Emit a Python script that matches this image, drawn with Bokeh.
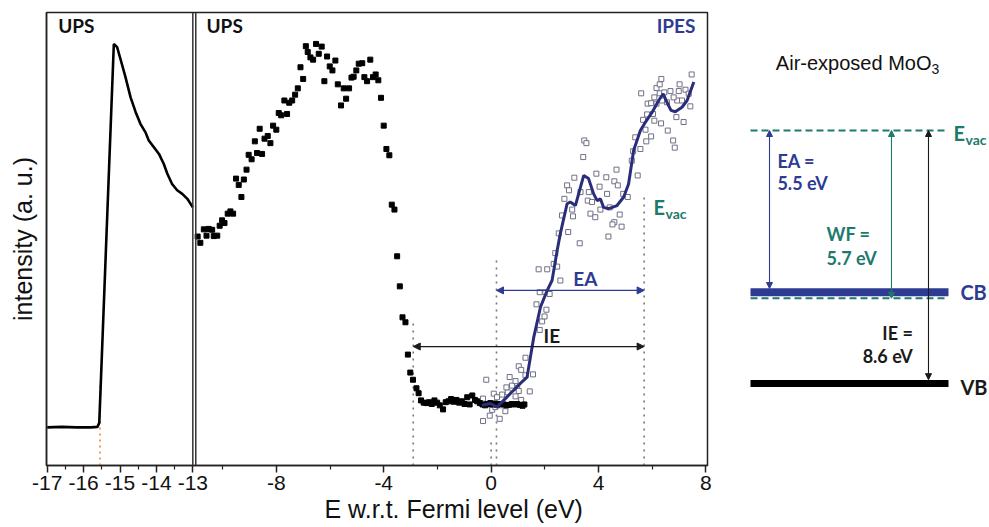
from bokeh.plotting import figure
from bokeh.models import (Range1d, LinearAxis, FixedTicker, Span, Arrow, NormalHead,
                          CustomJSTickFormatter, Title)
from bokeh.layouts import row
from bokeh.core.properties import value
from bokeh.embed import file_html
from bokeh.resources import INLINE

# ---------------- data ----------------
# secondary-electron cutoff panel (UPS), x in eV, intensity in a.u.
left_x = [-17.0, -16.6, -16.2, -15.8, -15.62, -15.57, -15.17, -15.08, -14.99, -14.85, -14.71, -14.57,
          -14.44, -14.30, -14.21, -14.07, -13.93, -13.80, -13.70, -13.57, -13.43, -13.29, -13.15, -13.0]
left_y = [7.6, 7.7, 7.6, 7.6, 7.7, 8.6, 93.0, 92.3, 89.7, 85.6, 81.1, 77.8,
          75.2, 73.3, 71.5, 70.0, 68.5, 66.3, 64.1, 61.8, 60.4, 59.6, 58.5, 56.6]

# valence region (UPS, filled squares)
ups_x = [-10.93, -10.83, -10.70, -10.60, -10.52, -10.39, -10.33, -10.20, -10.11, -10.02,
         -9.93, -9.81, -9.71, -9.61, -9.50, -9.40, -9.30, -9.21, -9.11, -9.03,
         -8.92, -8.80, -8.72, -8.62, -8.53, -8.44, -8.32, -8.22, -8.12, -8.00,
         -7.91, -7.82, -7.70, -7.60, -7.52, -7.41, -7.30, -7.20, -7.10, -7.00,
         -6.90, -6.83, -6.73, -6.63, -6.52, -6.42, -6.31, -6.21, -6.11, -6.01,
         -5.91, -5.80, -5.71, -5.59, -5.49, -5.40, -5.29, -5.20, -5.12, -5.02,
         -4.93, -4.80, -4.72, -4.62, -4.50, -4.40, -4.30, -4.20, -4.10, -4.00,
         -3.90, -3.79, -3.70, -3.60, -3.50, -3.40, -3.30, -3.19, -3.10, -3.01,
         -2.91, -2.78, -2.70, -2.61, -2.51, -2.41, -2.31, -2.21, -2.11, -2.01,
         -1.91, -1.79, -1.69, -1.59, -1.49, -1.39, -1.29, -1.19, -1.09, -0.99,
         -0.89, -0.80, -0.70, -0.60, -0.52, -0.42, -0.32, -0.22, -0.13, -0.03,
         0.07, 0.15, 0.22, 0.35, 0.47, 0.57, 0.67, 0.77, 0.87, 0.97,
         1.07, 1.17, 1.24]
ups_y = [50.1, 48.7, 51.7, 50.3, 51.8, 51.6, 50.2, 50.3, 52.5, 53.7,
         53.1, 55.2, 55.7, 55.2, 63.0, 61.6, 58.9, 62.8, 65.0, 68.3,
         67.3, 71.3, 68.7, 74.1, 68.5, 71.9, 72.5, 70.9, 74.8, 73.9,
         77.6, 77.1, 80.4, 77.4, 79.9, 80.4, 81.7, 83.1, 87.8, 85.2,
         92.5, 91.2, 90.0, 89.5, 93.0, 90.8, 92.4, 84.7, 90.2, 88.0,
         87.1, 89.3, 84.0, 79.3, 83.1, 80.8, 83.1, 85.5, 85.7, 87.1,
         88.6, 88.7, 85.6, 84.7, 89.5, 85.6, 86.2, 84.9, 81.0, 74.8,
         69.6, 68.2, 57.2, 56.1, 45.7, 39.0, 32.1, 31.0, 23.8, 19.8,
         18.2, 16.3, 15.2, 13.6, 13.1, 13.0, 13.2, 12.8, 13.6, 13.1,
         12.5, 11.6, 13.2, 13.4, 13.9, 13.3, 13.7, 13.1, 13.4, 12.8,
         14.3, 12.7, 14.7, 13.7, 13.4, 13.0, 12.7, 12.5, 12.8, 13.0,
         12.7, 12.9, 12.6, 12.8, 12.7, 12.5, 12.6, 12.8, 12.7, 12.8,
         12.6, 12.4, 12.7]

# conduction region (IPES, open squares)
ipes_x = [-0.30, -0.05, 0.04, 0.32, 0.53, -0.30, -0.03, 0.16, 0.32, -0.18,
          0.10, 0.22, 0.41, 0.62, 0.57, 0.78, 0.91, 0.97, 1.03, 1.12,
          0.69, 0.91, 1.44, 1.03, 1.12, 1.28, 1.56, 1.28, 1.81, 1.90,
          1.99, 2.06, 1.69, 1.81, 2.02, 2.18, 2.58, 1.77, 2.09, 2.33,
          2.46, 2.39, 2.52, 2.87, 3.30, 4.37, 2.64, 3.02, 3.05, 3.70,
          3.88, 4.79, 4.59, 4.52, 4.86, 3.60, 3.76, 4.07, 4.42, 2.73,
          3.33, 3.64, 4.04, 4.32, 4.92, 5.09, 2.83, 2.90, 3.10, 3.92,
          4.29, 4.67, 4.59, 4.72, 3.43, 3.47, 3.55, 5.46, 5.24, 5.29,
          5.37, 5.56, 5.75, 5.96, 5.78, 6.58, 6.78, 6.84, 5.66, 5.81,
          6.03, 6.08, 6.33, 7.17, 6.90, 5.83, 5.96, 6.16, 6.37, 6.55,
          6.93, 7.11, 7.42, 5.59, 6.08, 6.28, 6.45, 6.68, 6.99, 7.24,
          7.36, 6.80, 6.16, 6.28, 7.02, 6.34, 7.47]
ipes_y = [9.0, 10.2, 11.5, 9.5, 11.2, 14.0, 12.7, 12.1, 12.5, 18.2,
          15.1, 14.3, 14.9, 15.4, 16.5, 16.9, 14.5, 16.4, 15.7, 13.7,
          18.8, 17.9, 15.6, 21.2, 20.4, 19.2, 19.4, 23.1, 29.3, 31.2,
          32.3, 33.8, 35.0, 37.7, 37.7, 37.3, 40.3, 42.8, 42.8, 44.0,
          43.4, 46.4, 50.8, 51.1, 48.6, 50.1, 54.8, 56.1, 54.6, 55.2,
          54.4, 55.0, 53.3, 52.8, 52.3, 58.1, 57.8, 56.1, 56.6, 58.5,
          60.0, 60.0, 61.2, 59.6, 59.6, 58.9, 61.5, 60.4, 63.2, 64.1,
          63.3, 65.0, 62.4, 61.5, 67.8, 71.5, 70.9, 63.7, 67.0, 69.1,
          72.2, 69.6, 73.9, 72.4, 71.3, 73.7, 71.5, 69.9, 76.1, 77.3,
          77.4, 75.9, 75.3, 75.6, 76.7, 79.7, 79.8, 79.7, 80.4, 80.0,
          80.4, 80.4, 79.1, 82.0, 81.1, 82.0, 82.2, 82.5, 82.5, 82.8,
          81.9, 81.1, 83.2, 84.0, 84.0, 85.2, 86.2]

# smoothed IPES curve
fit_x = [-0.34, -0.03, 0.22, 0.53, 0.83, 1.09, 1.34, 1.59, 1.84, 2.09, 2.27, 2.46, 2.58,
         2.83, 2.95, 3.14, 3.45, 3.63, 3.82, 3.95, 4.07, 4.19, 4.38, 4.69, 4.94, 5.12,
         5.31, 5.56, 5.75, 6.00, 6.24, 6.41, 6.55, 6.70, 6.86, 7.11, 7.30, 7.55]
fit_y = [12.5, 12.9, 12.1, 14.0, 15.8, 17.4, 18.8, 27.7, 34.4, 38.1, 40.3, 47.0, 50.8,
         57.4, 57.8, 57.0, 63.7, 63.0, 59.6, 58.1, 58.5, 56.6, 56.3, 57.0, 58.9, 61.8,
         69.3, 73.7, 75.6, 77.8, 80.4, 81.9, 80.0, 78.2, 77.9, 78.9, 80.4, 84.5]

# characteristic energies (eV, w.r.t. Fermi level)
CUTOFF = -15.55
VBM = -2.9
FERMI = 0.0
CBM = 0.2
EVAC = 5.7

# ticks
left_ticks = [-17, -16, -15, -14, -13]
left_minor = [-16.5, -15.5, -14.5, -13.5]
mid_ticks = [-8, -4, 0, 4, 8]
mid_minor = [-10, -6, -2, 2, 6]

# energy-level diagram (eV relative to vacuum level)
EA, WF, IE = 5.5, 5.7, 8.6
level_vac, level_cb, level_ef, level_vb = 0.0, -EA, -WF, -IE

# ---------------- styling ----------------
BLUE = "#2d3b93"
NAVY = "#2a2e7a"
TEAL = "#1e7a6b"
DARK = "#1a1a1a"
BOLD = value("Lato")
SANS = value("Liberation Sans")
SANS_NAME = "Liberation Sans"

Y_MIN, Y_MAX = -0.9, 100.0
MID_LEFT = -11.0
MX0, MX1 = -16.56, 8.06      # middle-panel scale across the whole frame
LX0, LX1 = -17.02, 1.14      # left-panel scale across the whole frame
K = (LX1 - LX0) / (MX1 - MX0)

BORDER_TOP, BORDER_BOTTOM = 12, 62


def main_pos(v):
    """position on the shared frame (main scale) of a left-panel value"""
    return MX0 + (v - LX0) / K


p = figure(width=715, height=527, output_backend="svg", toolbar_location=None,
           x_range=Range1d(MX0, MX1), y_range=Range1d(Y_MIN, Y_MAX),
           x_axis_location=None, y_axis_location=None,
           min_border_left=46, min_border_right=8,
           min_border_top=BORDER_TOP, min_border_bottom=BORDER_BOTTOM)
p.extra_x_ranges = {"left": Range1d(LX0, LX1)}
p.grid.visible = False
p.outline_line_color = "#222222"
p.outline_line_width = 1.5

ax = LinearAxis(ticker=FixedTicker(ticks=[main_pos(t) for t in left_ticks] + mid_ticks,
                                   minor_ticks=[main_pos(t) for t in left_minor] + mid_minor),
                formatter=CustomJSTickFormatter(
                    args=dict(b=MID_LEFT, m0=MX0, l0=LX0, k=K),
                    code="return String(tick < b ? Math.round(l0 + (tick - m0) * k) : Math.round(tick));"))
ax.major_tick_out = 7
ax.major_tick_in = 0
ax.minor_tick_out = 4
ax.minor_tick_in = 0
ax.axis_line_color = "#222222"
ax.axis_line_width = 1.5
ax.major_tick_line_color = "#222222"
ax.major_tick_line_width = 1.5
ax.minor_tick_line_color = "#222222"
ax.minor_tick_line_width = 1.2
ax.major_label_text_font = SANS_NAME
ax.major_label_text_font_size = "21px"
ax.major_label_text_color = "#111111"
ax.major_label_standoff = 3
p.add_layout(ax, "below")

# x-axis title, placed under the middle (valence/conduction) panel
p.add_layout(Title(text="E w.r.t. Fermi level (eV)", align="left", offset=278, standoff=0,
                   text_font=SANS_NAME, text_font_style="normal", text_font_size="25px",
                   text_color="#111111"), "below")

ax_y = LinearAxis(ticker=FixedTicker(ticks=[]), axis_label="intensity (a. u.)")
ax_y.axis_line_color = "#222222"
ax_y.axis_line_width = 1.5
ax_y.major_tick_out = 0
ax_y.major_tick_in = 0
ax_y.minor_tick_out = 0
ax_y.minor_tick_in = 0
ax_y.axis_label_standoff = 10
ax_y.axis_label_text_font = SANS_NAME
ax_y.axis_label_text_font_style = "normal"
ax_y.axis_label_text_font_size = "25px"
ax_y.axis_label_text_color = "#111111"
p.add_layout(ax_y, "left")

# panel dividers
p.add_layout(Span(location=-13, dimension="height", x_range_name="left",
                  line_color="#333333", line_width=1.5))
p.add_layout(Span(location=MID_LEFT, dimension="height",
                  line_color="#333333", line_width=1.5))

# left panel
p.segment(x0=[CUTOFF], y0=[Y_MIN], x1=[CUTOFF], y1=[17.4], x_range_name="left",
          line_color="#e8843a", line_width=1.6, line_dash="2 4")
p.line(left_x, left_y, x_range_name="left", line_color="black", line_width=2.6)

# dotted markers in middle panel
marker_x = [VBM, FERMI, CBM, EVAC]
marker_top = [31.0, 5.3, 45.4, 59.7]
p.segment(x0=marker_x, y0=[Y_MIN] * 4, x1=marker_x, y1=marker_top,
          line_color="#777777", line_width=1.6, line_dash="2 5")

p.scatter(ipes_x, ipes_y, marker="square", size=5, fill_color="white",
          line_color="#707086", line_width=1)
p.scatter(ups_x, ups_y, marker="square", size=5, fill_color="black", line_color="black")
p.line(fit_x, fit_y, line_color=NAVY, line_width=3)

# arrows EA / IE
p.add_layout(Arrow(start=NormalHead(size=7, line_color=BLUE, fill_color=BLUE),
                   end=NormalHead(size=7, line_color=BLUE, fill_color=BLUE),
                   x_start=CBM, y_start=38.1, x_end=EVAC, y_end=38.1,
                   line_color=BLUE, line_width=1.2))
p.add_layout(Arrow(start=NormalHead(size=7, line_color=DARK, fill_color=DARK),
                   end=NormalHead(size=7, line_color=DARK, fill_color=DARK),
                   x_start=VBM, y_start=25.6, x_end=EVAC, y_end=25.6,
                   line_color=DARK, line_width=1.2))

p.text(x=[-16.7], y=[97.0], text=["UPS"], x_range_name="left", text_font=BOLD,
       text_font_style="bold", text_font_size="19px", text_color="#111111",
       text_baseline="middle", text_align="left")
p.text(x=[-10.6], y=[97.0], text=["UPS"], text_font=BOLD, text_font_style="bold",
       text_font_size="19px", text_color="#111111", text_baseline="middle", text_align="left")
p.text(x=[7.61], y=[97.0], text=["IPES"], text_font=BOLD, text_font_style="bold",
       text_font_size="19px", text_color=BLUE, text_baseline="middle", text_align="right")
p.text(x=[3.51], y=[40.8], text=["EA"], text_font=BOLD, text_font_style="bold",
       text_font_size="19px", text_color=BLUE, text_baseline="middle", text_align="center")
p.text(x=[2.26], y=[28.1], text=["IE"], text_font=BOLD, text_font_style="bold",
       text_font_size="19px", text_color=DARK, text_baseline="middle", text_align="center")
p.text(x=[6.05], y=[56.6], text=["E"], text_font=BOLD, text_font_style="bold",
       text_font_size="20px", text_color=TEAL, text_baseline="middle", text_align="left")
p.text(x=[6.05], y=[56.6], text=["vac"], x_offset=12, y_offset=6, text_font=BOLD,
       text_font_style="bold", text_font_size="14px", text_color=TEAL,
       text_baseline="middle", text_align="left")

# ---------------- energy-level diagram ----------------
# frame spans the same rows as the spectra frame (12 .. 465 px); 29.42 px per eV
q = figure(width=274, height=527, output_backend="svg", toolbar_location=None,
           x_range=Range1d(-0.1768, 1.2071), y_range=Range1d(-11.387, 4.011),
           x_axis_location=None, y_axis_location=None, min_border=0,
           min_border_left=0, min_border_right=0,
           min_border_top=BORDER_TOP, min_border_bottom=BORDER_BOTTOM)
q.grid.visible = False
q.outline_line_color = None

BAR_HALF = 0.13
q.segment(x0=[0, 0], y0=[level_vac, level_ef], x1=[1, 1], y1=[level_vac, level_ef],
          line_color=TEAL, line_width=2, line_dash="7 4")
q.segment(x0=[0], y0=[level_cb], x1=[1], y1=[level_cb], line_color=BLUE, line_width=8)
q.segment(x0=[0], y0=[level_vb], x1=[1], y1=[level_vb], line_color="black", line_width=7)

for xa, y_end, col in [(0.096, level_cb + BAR_HALF, BLUE),
                       (0.712, level_ef, TEAL),
                       (0.899, level_vb + BAR_HALF, DARK)]:
    q.add_layout(Arrow(start=NormalHead(size=6, line_color=col, fill_color=col),
                       end=NormalHead(size=6, line_color=col, fill_color=col),
                       x_start=xa, y_start=level_vac, x_end=xa, y_end=y_end,
                       line_color=col, line_width=1.1))


def qtext(x, y, t, color, size, align="left", font=BOLD, style="bold", **kw):
    q.text(x=[x], y=[y], text=[t], text_font=font, text_font_style=style,
           text_font_size=size, text_color=color, text_baseline="middle",
           text_align=align, **kw)


qtext(0.914, 2.28, "Air-exposed MoO", "#111111", "20px", align="right", font=SANS, style="normal")
qtext(0.914, 2.28, "3", "#111111", "14px", font=SANS, style="normal", y_offset=6)
qtext(0.136, -1.02, "EA =", BLUE, "18px")
qtext(0.136, -1.80, "5.5 eV", BLUE, "18px")
qtext(0.384, -3.52, "WF =", TEAL, "18px")
qtext(0.384, -4.35, "5.7 eV", TEAL, "18px")
qtext(0.82, -6.90, "IE =", DARK, "18px", align="right")
qtext(0.82, -7.65, "8.6 eV", DARK, "18px", align="right")
qtext(1.025, -0.10, "E", TEAL, "20px")
qtext(1.025, -0.10, "vac", TEAL, "14px", x_offset=12, y_offset=6)
qtext(1.06, level_cb, "CB", BLUE, "20px")
qtext(1.06, level_vb - 0.12, "VB", DARK, "20px")

layout = row(p, q)
open("out.html", "w").write(file_html(layout, INLINE))
